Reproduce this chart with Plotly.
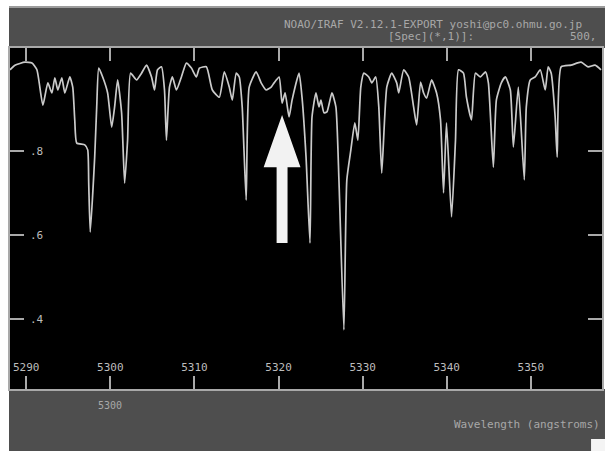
import plotly.graph_objects as go

# Spectrum (wavelength in Angstrom, relative flux)
wavelength = [5288.07, 5288.66, 5289.85, 5290.68, 5291.27, 5291.98, 5292.57, 5293.05, 5293.40, 5293.76,
              5294.23, 5294.59, 5295.18, 5295.53, 5295.77, 5296.01, 5296.96, 5297.31, 5297.43, 5297.61,
              5298.14, 5298.38, 5298.62, 5299.09, 5299.68, 5300.16, 5300.51, 5300.87, 5301.34, 5301.70,
              5302.05, 5302.41, 5303.12, 5303.71, 5304.30, 5304.90, 5305.25, 5305.61, 5306.08, 5306.44,
              5306.67, 5307.03, 5307.38, 5307.86, 5308.45, 5309.04, 5309.64, 5310.23, 5310.59, 5311.42,
              5312.13, 5312.96, 5313.55, 5314.14, 5314.50, 5314.97, 5315.33, 5315.68, 5316.15, 5316.51,
              5317.34, 5317.93, 5318.53, 5319.12, 5319.47, 5320.07, 5320.42, 5320.78, 5321.25, 5321.61,
              5322.44, 5322.79, 5323.27, 5323.74, 5323.98, 5324.45, 5324.81, 5325.04, 5325.40, 5325.75,
              5326.35, 5326.82, 5327.18, 5327.77, 5328.12, 5328.60, 5329.07, 5329.43, 5329.78, 5330.14,
              5330.73, 5331.09, 5331.56, 5331.92, 5332.27, 5332.87, 5333.46, 5334.05, 5334.29, 5334.88,
              5335.47, 5336.06, 5336.42, 5336.89, 5337.25, 5337.61, 5338.20, 5338.79, 5339.26, 5339.62,
              5339.97, 5340.57, 5341.04, 5341.40, 5341.99, 5342.34, 5342.94, 5343.41, 5344.00, 5344.60,
              5344.95, 5345.54, 5345.90, 5346.49, 5346.97, 5347.56, 5347.92, 5348.51, 5349.22, 5349.46,
              5349.93, 5350.52, 5351.12, 5351.71, 5352.06, 5352.42, 5352.89, 5353.13, 5353.60, 5354.79,
              5355.97, 5356.80, 5357.63, 5358.34]
flux = [0.992, 1.003, 1.010, 1.008, 0.992, 0.908, 0.961, 0.937, 0.973, 0.944,
        0.973, 0.937, 0.975, 0.951, 0.873, 0.818, 0.814, 0.802, 0.723, 0.607,
        0.785, 0.904, 0.996, 0.975, 0.937, 0.856, 0.904, 0.968, 0.890, 0.723,
        0.825, 0.984, 0.968, 0.984, 1.003, 0.975, 0.944, 0.992, 0.999, 0.944,
        0.825, 0.951, 0.975, 0.944, 0.975, 1.008, 0.996, 0.975, 0.996, 0.999,
        0.944, 0.927, 0.987, 0.951, 0.920, 0.984, 0.975, 0.904, 0.683, 0.951,
        0.987, 0.961, 0.944, 0.951, 0.961, 0.975, 0.913, 0.937, 0.880, 0.920,
        0.984, 0.927, 0.785, 0.581, 0.880, 0.937, 0.904, 0.920, 0.890, 0.892,
        0.937, 0.904, 0.731, 0.375, 0.731, 0.802, 0.866, 0.825, 0.951, 0.984,
        0.975, 0.961, 0.975, 0.904, 0.747, 0.951, 0.984, 0.961, 0.937, 0.992,
        0.975, 0.904, 0.861, 0.963, 0.937, 0.925, 0.968, 0.937, 0.873, 0.700,
        0.866, 0.643, 0.825, 0.992, 0.984, 0.927, 0.873, 0.984, 0.975, 0.987,
        0.961, 0.761, 0.920, 0.961, 0.975, 0.944, 0.809, 0.951, 0.731, 0.904,
        0.968, 0.975, 0.992, 0.944, 0.999, 0.984, 0.880, 0.785, 0.999, 1.003,
        1.010, 0.999, 1.003, 0.992]

x_ticks = [5290, 5300, 5310, 5320, 5330, 5340, 5350]
x_tick_text = ["5290", "5300", "5310", "5320", "5330", "5340", "5350"]
y_ticks = [0.4, 0.6, 0.8]
y_tick_text = [".4", ".6", ".8"]

header_line1 = "NOAO/IRAF V2.12.1-EXPORT yoshi@pc0.ohmu.go.jp"
header_line2 = "[Spec](*,1)]:"
header_right = "500,"
x_title = "Wavelength (angstroms)"
marked_line = 5320.42  # wavelength marked by the arrow

W, H = 606, 451
L, R, T, B = 10, 2, 48, 62
PW, PH = W - L - R, H - T - B
def px(x):
    return (x - L) / PW
def py(y):
    return (H - B - y) / PH

GRAY = "#4e4e4e"
FRAME = "#a9a9a9"
TXT = "#bdbdbd"
MONO = "DejaVu Sans Mono"
X_RANGE = [5288.07, 5358.46]
Y_RANGE = [0.2347, 1.0437]

fig = go.Figure()
fig.add_trace(go.Scatter(x=wavelength, y=flux, mode="lines",
                         line=dict(color="#cacaca", width=1.7, shape="spline", smoothing=0.5),
                         hoverinfo="skip"))
# empty helper trace so the label axes (x2 / y2) are active
fig.add_trace(go.Scatter(x=[None], y=[None], xaxis="x2", yaxis="y2",
                         mode="lines", hoverinfo="skip", showlegend=False))

shapes = [
    dict(type="rect", xref="paper", yref="paper", x0=px(9), x1=px(607), y0=py(48), y1=py(6),
         fillcolor=GRAY, line=dict(width=0), layer="below"),
    dict(type="rect", xref="paper", yref="paper", x0=px(9), x1=px(607), y0=py(8), y1=py(6),
         fillcolor="#9c9c9c", line=dict(width=0), layer="below"),
    dict(type="rect", xref="paper", yref="paper", x0=px(9), x1=px(607), y0=py(451), y1=py(389),
         fillcolor=GRAY, line=dict(width=0), layer="below"),
    dict(type="rect", xref="paper", yref="paper", x0=px(593), x1=px(607), y0=py(452), y1=py(439),
         fillcolor="#f4f4f4", line=dict(width=0), layer="above"),
]
# Arrow pointing at the marked line (in data coordinates)
hs, hh = 0.65, 2.19
y_tip, y_base, y_tail = 0.885, 0.761, 0.581
c = marked_line
path = (f"M {c-hs},{y_tail} L {c-hs},{y_base} L {c-hh},{y_base} L {c},{y_tip} "
        f"L {c+hh},{y_base} L {c+hs},{y_base} L {c+hs},{y_tail} Z")
shapes.append(dict(type="path", xref="x", yref="y", path=path,
                   fillcolor="#f2f2f2", line=dict(width=0), layer="above"))

annotations = [
    dict(text=header_line1, xref="paper", yref="paper", x=px(283), y=py(24),
         xanchor="left", yanchor="middle", showarrow=False,
         font=dict(family=MONO, size=11, color="#a8a8a8")),
    dict(text=header_line2, xref="paper", yref="paper", x=px(387), y=py(36),
         xanchor="left", yanchor="middle", showarrow=False,
         font=dict(family=MONO, size=11, color="#a8a8a8")),
    dict(text=header_right, xref="paper", yref="paper", x=px(570), y=py(36),
         xanchor="left", yanchor="middle", showarrow=False,
         font=dict(family=MONO, size=11, color="#a8a8a8")),
    dict(text="5300", xref="x", yref="paper", x=5300, y=py(405),
         xanchor="center", yanchor="middle", showarrow=False,
         font=dict(family=MONO, size=10, color="#a8a8a8")),
    dict(text=x_title, xref="paper", yref="paper", x=px(453), y=py(425),
         xanchor="left", yanchor="middle", showarrow=False,
         font=dict(family=MONO, size=11, color="#a8a8a8")),
]

fig.update_layout(
    width=W, height=H,
    margin=dict(l=L, r=R, t=T, b=B, pad=0),
    paper_bgcolor="white", plot_bgcolor="black",
    showlegend=False,
    shapes=shapes, annotations=annotations,
    xaxis=dict(range=X_RANGE, tickvals=x_ticks, ticktext=x_tick_text,
               ticks="inside", ticklen=13, tickwidth=2, tickcolor=FRAME,
               showticklabels=False,
               showline=True, linecolor=FRAME, linewidth=2, mirror="ticks",
               showgrid=False, zeroline=False),
    xaxis2=dict(range=X_RANGE, overlaying="x", anchor="free", position=py(359),
                side="bottom", tickvals=x_ticks, ticktext=x_tick_text,
                ticks="", showline=False, showgrid=False, zeroline=False,
                tickfont=dict(family=MONO, size=11, color=TXT)),
    yaxis=dict(range=Y_RANGE, tickvals=y_ticks, ticktext=y_tick_text,
               ticks="inside", ticklen=14, tickwidth=2, tickcolor=FRAME,
               showticklabels=False,
               showline=True, linecolor=FRAME, linewidth=2, mirror="ticks",
               showgrid=False, zeroline=False),
    yaxis2=dict(range=Y_RANGE, overlaying="y", anchor="free", position=px(29),
                side="right", tickvals=y_ticks, ticktext=y_tick_text,
                ticks="", showline=False, showgrid=False, zeroline=False,
                tickfont=dict(family=MONO, size=11, color=TXT)),
)

fig.write_html("out.html")
